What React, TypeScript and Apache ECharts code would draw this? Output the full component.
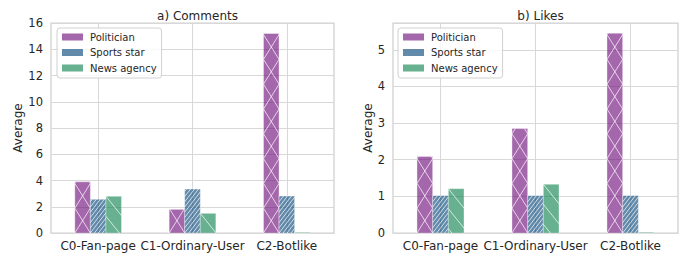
import React, { useEffect, useRef } from "react";
import * as echarts from "echarts";

const categories = ["C0-Fan-page", "C1-Ordinary-User", "C2-Botlike"];
const seriesNames = ["Politician", "Sports star", "News agency"];

const commentsPolitician = [3.9, 1.8, 15.2];
const commentsSports = [2.57, 3.35, 2.82];
const commentsNews = [2.8, 1.5, 0.05];

const likesPolitician = [2.09, 2.85, 5.45];
const likesSports = [1.02, 1.02, 1.02];
const likesNews = [1.21, 1.33, 0.02];

const commentsMax = 16;
const commentsInterval = 2;
const likesMax = 5.73;
const likesInterval = 1;

const panelTitles = ["a) Comments", "b) Likes"];

const FONT = "DejaVu Sans";
const TEXT = "#262626";
const colors = ["rgba(108,10,120,0.62)", "rgba(2,66,118,0.62)", "rgba(10,128,76,0.62)"];
const HATCH = "rgba(255,255,255,0.7)";
const BAR_RATIO = 0.165;

type Seg = [number, number, number, number];

function hatchLines(
  x0: number, x1: number, y0: number, y1: number,
  dir: 1 | -1, s: number, P: number, refX: number, refY: number
): Seg[] {
  const segs: Seg[] = [];
  if (y1 - y0 < 0.5) return segs;
  const cRef = dir === 1 ? refY + s * refX : refY - s * refX;
  let cMin: number, cMax: number;
  if (dir === 1) { cMin = y0 + s * x0; cMax = y1 + s * x1; }
  else { cMin = y0 - s * x1; cMax = y1 - s * x0; }
  const kMin = Math.floor((cMin - cRef) / P) - 1;
  const kMax = Math.ceil((cMax - cRef) / P) + 1;
  for (let k = kMin; k <= kMax; k++) {
    const c = cRef + k * P;
    let a: number, b: number;
    if (dir === 1) { a = (c - y1) / s; b = (c - y0) / s; }
    else { a = (y0 - c) / s; b = (y1 - c) / s; }
    const xa = Math.max(a, x0), xb = Math.min(b, x1);
    if (xb - xa <= 0.05) continue;
    const ya = dir === 1 ? c - s * xa : c + s * xa;
    const yb = dir === 1 ? c - s * xb : c + s * xb;
    segs.push([xa, ya, xb, yb]);
  }
  return segs;
}

function makeRender(idx: number) {
  return (params: any, api: any) => {
    const ci = api.value(0);
    const v = api.value(1);
    const p0 = api.coord([ci, 0]);
    const p1 = api.coord([ci, v]);
    const band = api.size([1, 0])[0];
    const bw = band * BAR_RATIO;
    const xc = p0[0] + (idx - 1) * bw;
    const x0 = xc - bw / 2, x1 = xc + bw / 2;
    const y0 = Math.min(p1[1], p0[1]), y1 = Math.max(p1[1], p0[1]);
    const children: any[] = [
      {
        type: "rect",
        shape: { x: x0, y: y0, width: bw, height: Math.max(y1 - y0, 0.6) },
        style: { fill: colors[idx], stroke: "rgba(255,255,255,0.45)", lineWidth: 0.8 },
      },
    ];
    let segs: Seg[] = [];
    if (idx === 0) {
      const P = 24.8;
      const s = P / bw;
      segs = segs
        .concat(hatchLines(x0, x1, y0, y1, 1, s, P, xc, y1 - P / 2))
        .concat(hatchLines(x0, x1, y0, y1, -1, s, P, xc, y1 - P / 2));
    } else if (idx === 1) {
      segs = hatchLines(x0, x1, y0, y1, 1, 1.3, 5.2, x0, y1);
    } else {
      segs = hatchLines(x0, x1, y0, y1, -1, 1.25, 20, x0, y0);
    }
    segs.forEach((sg) => {
      children.push({
        type: "line",
        shape: { x1: sg[0], y1: sg[1], x2: sg[2], y2: sg[3] },
        style: { stroke: HATCH, lineWidth: 1 },
      });
    });
    return { type: "group", children };
  };
}

function toData(vals: number[]) {
  return vals.map((v, i) => [i, v]);
}

export default function App() {
  const ref = useRef<HTMLDivElement>(null);
  useEffect(() => {
    if (!ref.current) return;
    const chart = echarts.init(ref.current, null, { renderer: "svg" });
    const panels = [
      [commentsPolitician, commentsSports, commentsNews],
      [likesPolitician, likesSports, likesNews],
    ];
    const series: any[] = [];
    panels.forEach((panel, g) => {
      panel.forEach((vals, idx) => {
        series.push({
          type: "custom",
          name: seriesNames[idx],
          xAxisIndex: g,
          yAxisIndex: g,
          encode: { x: 0, y: 1 },
          itemStyle: { color: colors[idx] },
          data: toData(vals),
          renderItem: makeRender(idx),
          z: 3,
        });
      });
    });
    const xAxisBase = (g: number) => ({
      type: "category",
      gridIndex: g,
      data: categories,
      axisLine: { show: false },
      axisTick: { show: false },
      axisLabel: { fontFamily: FONT, fontSize: 12, color: TEXT, margin: 7, interval: 0 },
      splitLine: { show: true, alignWithLabel: true, lineStyle: { color: "#d8d8d8", width: 1 } },
    });
    const yAxisBase = (g: number, max: number, interval: number) => ({
      type: "value",
      gridIndex: g,
      min: 0,
      max,
      interval,
      name: "Average",
      nameLocation: "middle",
      nameGap: g === 0 ? 26 : 18,
      nameTextStyle: { fontFamily: FONT, fontSize: 12, color: TEXT },
      axisLine: { show: false },
      axisTick: { show: false },
      axisLabel: { fontFamily: FONT, fontSize: 11.5, color: TEXT, margin: 8, showMaxLabel: g === 0 },
      splitLine: { show: true, lineStyle: { color: "#d8d8d8", width: 1 } },
    });
    const legendBase = (left: number) => ({
      data: seriesNames,
      orient: "vertical",
      left,
      top: 28,
      icon: "rect",
      itemWidth: 21,
      itemHeight: 7,
      itemGap: 3.5,
      padding: [3, 5, 4, 5],
      backgroundColor: "rgba(255,255,255,0.85)",
      borderColor: "#d0d0d0",
      borderWidth: 1,
      borderRadius: 3,
      textStyle: { fontFamily: FONT, fontSize: 10, color: TEXT, lineHeight: 12, padding: [0, 0, 0, 2] },
      selectedMode: false,
    });
    chart.setOption({
      animation: false,
      backgroundColor: "#ffffff",
      title: [
        { text: panelTitles[0], left: 192.5, top: 5, textAlign: "center", textStyle: { fontFamily: FONT, fontSize: 12, fontWeight: "normal", color: TEXT } },
        { text: panelTitles[1], left: 535.5, top: 5, textAlign: "center", textStyle: { fontFamily: FONT, fontSize: 12, fontWeight: "normal", color: TEXT } },
      ],
      legend: [legendBase(57), legendBase(398)],
      grid: [
        { left: 51, right: 357, top: 23, bottom: 28, show: true, borderColor: "#cfcfcf", borderWidth: 1.25, backgroundColor: "transparent" },
        { left: 393, right: 13, top: 23, bottom: 28, show: true, borderColor: "#cfcfcf", borderWidth: 1.25, backgroundColor: "transparent" },
      ],
      xAxis: [xAxisBase(0), xAxisBase(1)],
      yAxis: [yAxisBase(0, commentsMax, commentsInterval), yAxisBase(1, likesMax, likesInterval)],
      series,
    });
    return () => chart.dispose();
  }, []);
  return <div ref={ref} style={{ position: "fixed", left: 0, top: 0, width: 691, height: 261 }} />;
}
